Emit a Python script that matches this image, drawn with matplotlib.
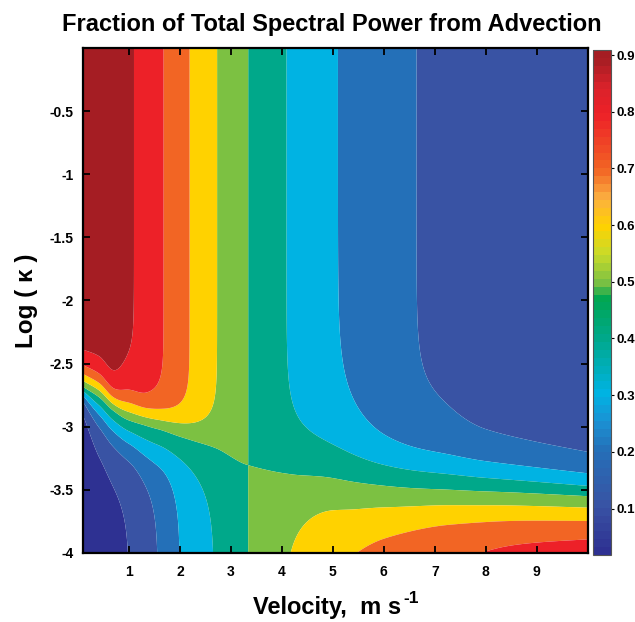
import numpy as np
import matplotlib
matplotlib.use("Agg")
import matplotlib.pyplot as plt
from matplotlib.colors import LinearSegmentedColormap, Normalize
from matplotlib.cm import ScalarMappable

plt.rcParams['font.family'] = ['Liberation Sans', 'DejaVu Sans']
plt.rcParams['font.weight'] = 'bold'
plt.rcParams['axes.unicode_minus'] = False

# Advective fraction at large wavenumber (top of the domain) vs velocity
v_top = [0.1, 0.6, 1.1, 1.68, 2.19, 2.73, 3.34, 4.09, 5.10, 6.64, 7.26, 8.0, 9.0, 10.0]
frac_top = [0.909, 0.897, 0.85, 0.75, 0.65, 0.55, 0.45, 0.35, 0.25, 0.15, 0.132, 0.11, 0.098, 0.09]

# Advective fraction at small wavenumber (bottom of the domain) vs velocity
v_bot = [0.1, 0.5, 1.0, 1.57, 2.0, 2.67, 3.34, 4.2, 5.0, 5.44, 6.0, 7.26, 8.5, 10.0]
frac_bot = [0.018, 0.025, 0.05, 0.15, 0.25, 0.35, 0.45, 0.57, 0.67, 0.693, 0.72, 0.77, 0.82, 0.86]

# Crossover log-wavenumber and transition widths above / below it
v_mid = [0.1, 0.42, 0.68, 1.0, 1.34, 2.0, 2.7, 3.34, 5.0, 6.0, 7.26, 10.0]
logk_mid = [-2.68, -2.76, -2.86, -2.945, -2.985, -3.05, -3.15, -3.30, -3.44, -3.47, -3.50, -3.57]
width_up = [0.11, 0.115, 0.105, 0.13, 0.11, 0.10, 0.12, 0.15, 0.24, 0.21, 0.19, 0.15]
width_lo = [0.07, 0.14, 0.16, 0.17, 0.19, 0.17, 0.20, 0.22, 0.25, 0.22, 0.19, 0.18]

# Contour band edges and colour stops of the palette (value, colour)
band_edges = [0.0, 0.05, 0.15, 0.25, 0.35, 0.45, 0.55, 0.65, 0.75, 0.85, 1.0]
band_values = [0.0, 0.1, 0.2, 0.3, 0.4, 0.5, 0.6, 0.7, 0.8, 0.9]
palette = [(0.00, '#2e3192'), (0.10, '#3953a4'), (0.20, '#2470b8'),
           (0.25, '#1b91d3'), (0.30, '#00b3e3'), (0.40, '#00a88a'),
           (0.47, '#00a651'), (0.50, '#7dc142'), (0.55, '#c8db2a'),
           (0.60, '#ffd200'), (0.65, '#fbb040'), (0.70, '#f26524'),
           (0.80, '#ed2128'), (0.85, '#d9222a'), (0.90, '#a51d23'),
           (1.00, '#a51d23')]

x_ticks = [1, 2, 3, 4, 5, 6, 7, 8, 9]
y_ticks = [-0.5, -1, -1.5, -2, -2.5, -3, -3.5, -4]
cbar_ticks = [0.1, 0.2, 0.3, 0.4, 0.5, 0.6, 0.7, 0.8, 0.9]


def pchip(xk, yk, x):
    """Monotone piecewise cubic Hermite interpolation."""
    xk = np.asarray(xk, float)
    yk = np.asarray(yk, float)
    h = np.diff(xk)
    d = np.diff(yk) / h
    m = np.zeros_like(yk)
    for i in range(1, len(xk) - 1):
        if d[i - 1] * d[i] > 0:
            w1 = 2 * h[i] + h[i - 1]
            w2 = h[i] + 2 * h[i - 1]
            m[i] = (w1 + w2) / (w1 / d[i - 1] + w2 / d[i])
    m[0], m[-1] = d[0], d[-1]
    idx = np.clip(np.searchsorted(xk, x) - 1, 0, len(h) - 1)
    t = (x - xk[idx]) / h[idx]
    h00 = 2 * t**3 - 3 * t**2 + 1
    h10 = t**3 - 2 * t**2 + t
    h01 = -2 * t**3 + 3 * t**2
    h11 = t**3 - t**2
    return (h00 * yk[idx] + h10 * h[idx] * m[idx]
            + h01 * yk[idx + 1] + h11 * h[idx] * m[idx + 1])


vel = np.linspace(0.1, 10.0, 700)
logk = np.linspace(-4.0, 0.0, 700)
V, L = np.meshgrid(vel, logk)

top = pchip(v_top, frac_top, V)
bot = pchip(v_bot, frac_bot, V)
mid = pchip(v_mid, logk_mid, V)
s_up = pchip(v_mid, width_up, V)
s_lo = pchip(v_mid, width_lo, V)
z = np.where(L > mid, (L - mid) / s_up, (L - mid) / s_lo)
weight = 1.0 / (1.0 + np.exp(-z))
frac = bot + (top - bot) * weight

fmin, fmax = float(frac.min()), float(frac.max())
norm = Normalize(fmin, fmax)
pos, cols = [], []
for val, col in palette:
    p = min(max((val - fmin) / (fmax - fmin), 0.0), 1.0)
    if pos and p <= pos[-1]:
        if p == 0.0:
            cols[-1] = col
        continue
    pos.append(p)
    cols.append(col)
pos[0], pos[-1] = 0.0, 1.0
cmap = LinearSegmentedColormap.from_list('advect', list(zip(pos, cols)), N=64)
cmap_fine = LinearSegmentedColormap.from_list('advect_fine', list(zip(pos, cols)), N=1024)
fill_cols = [cmap_fine(norm(v)) for v in band_values]

fig = plt.figure(figsize=(6.35, 6.22), dpi=100)
ax = fig.add_axes([0.1307, 0.111, 0.795, 0.812])
ax.contourf(vel, logk, frac, levels=band_edges, colors=fill_cols, antialiased=True)
ax.set_xlim(0.1, 10.0)
ax.set_ylim(-4.0, 0.0)
ax.set_xticks(x_ticks)
ax.set_xticklabels([f'{t:g}' for t in x_ticks])
ax.set_yticks(y_ticks)
ax.set_yticklabels([f'{t:g}' for t in y_ticks])
ax.tick_params(direction='in', top=True, right=True, length=5, width=1.3,
               labelsize=10, pad=7)
ax.tick_params(axis='x', pad=9)
for lab in ax.get_xticklabels() + ax.get_yticklabels():
    lab.set_fontweight('bold')
for sp in ax.spines.values():
    sp.set_linewidth(1.6)

fig.text(0.523, 0.961, 'Fraction of Total Spectral Power from Advection',
         fontsize=17, fontweight='bold', ha='center', va='center')
fig.text(0.041, 0.517, 'Log ( κ )', fontsize=17.5, fontweight='bold',
         rotation=90, ha='center', va='center')

# x-axis label with a raised "-1" exponent
renderer = fig.canvas.get_renderer()
xl_main = fig.text(0, 0.0129, 'Velocity,  m s', fontsize=17, fontweight='bold',
                   ha='left', va='baseline')
xl_exp = fig.text(0, 0.0129, '-1', fontsize=12.5, fontweight='bold',
                  ha='left', va='baseline')
w_main = xl_main.get_window_extent(renderer).width
w_exp = xl_exp.get_window_extent(renderer).width
fig_w = fig.get_figwidth() * fig.dpi
x_start = 336 - (w_main + 2 + w_exp) / 2
xl_main.set_x(x_start / fig_w)
xl_exp.set_x((x_start + w_main + 2) / fig_w)
xl_exp.set_y(0.0129 + 11 / (fig.get_figheight() * fig.dpi))

cax = fig.add_axes([0.934, 0.1077, 0.0276, 0.812])
cb = fig.colorbar(ScalarMappable(norm=norm, cmap=cmap), cax=cax, ticks=cbar_ticks)
cb.ax.set_yticklabels([f'{t:.1f}' for t in cbar_ticks])
cb.ax.tick_params(direction='out', length=2.5, width=0.8, labelsize=9.5, pad=1.5)
for lab in cb.ax.get_yticklabels():
    lab.set_fontweight('bold')
cb.outline.set_linewidth(0.8)
cb.outline.set_edgecolor('#555555')

fig.savefig('out.png', dpi=100)
